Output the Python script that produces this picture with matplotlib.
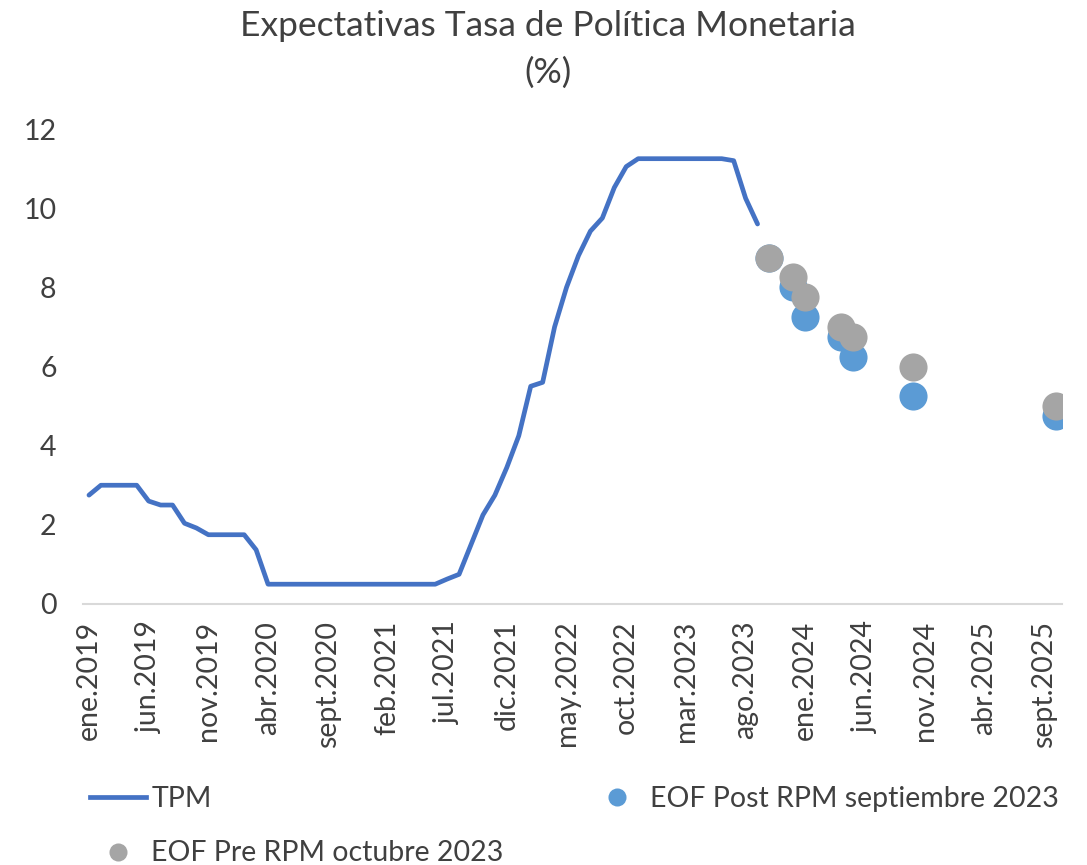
import matplotlib
matplotlib.use("Agg")
import matplotlib.pyplot as plt
from matplotlib.lines import Line2D

plt.rcParams['font.family'] = ['Lato', 'DejaVu Sans']

# TPM monthly average, ene.2019 .. sept.2023
tpm = [2.75, 3.0, 3.0, 3.0, 3.0, 2.6, 2.5, 2.5, 2.04, 1.92,
       1.75, 1.75, 1.75, 1.75, 1.37, 0.5, 0.5, 0.5, 0.5, 0.5,
       0.5, 0.5, 0.5, 0.5, 0.5, 0.5, 0.5, 0.5, 0.5, 0.5,
       0.63, 0.75, 1.5, 2.25, 2.75, 3.45, 4.25, 5.5, 5.6, 7.0,
       8.0, 8.8, 9.42, 9.75, 10.52, 11.05, 11.25, 11.25, 11.25, 11.25,
       11.25, 11.25, 11.25, 11.25, 11.2, 10.25, 9.6]

# Expectation survey dates (year, month)
eof_dates = [(2023, 10), (2023, 12), (2024, 1), (2024, 4), (2024, 5), (2024, 10), (2025, 10)]
eof_post = [8.75, 8.0, 7.25, 6.75, 6.25, 5.25, 4.75]
eof_pre = [8.75, 8.25, 7.75, 7.0, 6.75, 6.0, 5.0]

tick_labels = ["ene.2019", "jun.2019", "nov.2019", "abr.2020", "sept.2020", "feb.2021",
               "jul.2021", "dic.2021", "may.2022", "oct.2022", "mar.2023", "ago.2023",
               "ene.2024", "jun.2024", "nov.2024", "abr.2025", "sept.2025"]

def midx(y, m):
    return (y - 2019) * 12 + (m - 1)

x_tpm = list(range(len(tpm)))
x_eof = [midx(y, m) for y, m in eof_dates]
tick_pos = [5 * i for i in range(len(tick_labels))]

c_tpm = '#4472C4'
c_post = '#5B9BD5'
c_pre = '#A5A5A5'
txt = '#404040'

fig = plt.figure(figsize=(10.87, 8.65), dpi=100)
ax = fig.add_axes([83/1087, 1 - 604/865, (1062 - 83)/1087, (604 - 129)/865])

ax.plot(x_tpm, tpm, color=c_tpm, lw=3.4, solid_capstyle='round', solid_joinstyle='round', zorder=3)
ax.scatter(x_eof, eof_post, s=410, color=c_post, linewidths=0, zorder=4)
ax.scatter(x_eof, eof_pre, s=410, color=c_pre, linewidths=0, zorder=5)

ax.set_xlim(-0.5, 81.5)
ax.set_ylim(0, 12)
ax.set_yticks(range(0, 13, 2))
ax.set_xticks(tick_pos)
ax.set_xticklabels(tick_labels, rotation=90)
ax.tick_params(axis='both', length=0, labelsize=20.5, colors=txt)
ax.tick_params(axis='x', pad=12)
ax.tick_params(axis='y', pad=19)
for s in ['top', 'right', 'left']:
    ax.spines[s].set_visible(False)
ax.spines['bottom'].set_color('#D9D9D9')
ax.spines['bottom'].set_linewidth(1.5)

fig.text(548/1087, 1 - 26/865, "Expectativas Tasa de Política Monetaria", ha='center', va='center',
         fontsize=25.5, color=txt)
fig.text(548/1087, 1 - 73/865, "(%)", ha='center', va='center', fontsize=25.5, color=txt)

h_tpm = Line2D([], [], color=c_tpm, lw=3.4)
h_pre = Line2D([], [], color=c_pre, marker='o', ls='none', markersize=13, markeredgewidth=0)
h_post = Line2D([], [], color=c_post, marker='o', ls='none', markersize=13, markeredgewidth=0)
leg = fig.legend([h_tpm, h_pre, h_post], ["TPM", "EOF Pre RPM octubre 2023", "EOF Post RPM septiembre 2023"],
                 ncol=2, loc='upper left', bbox_to_anchor=(90/1087, 1 - 786/865), frameon=False,
                 fontsize=20.5, labelcolor=txt, handlelength=1.95, handletextpad=0.2,
                 columnspacing=3.0, labelspacing=1.0, borderaxespad=0, borderpad=0)

fig.savefig("out.png", dpi=100)
